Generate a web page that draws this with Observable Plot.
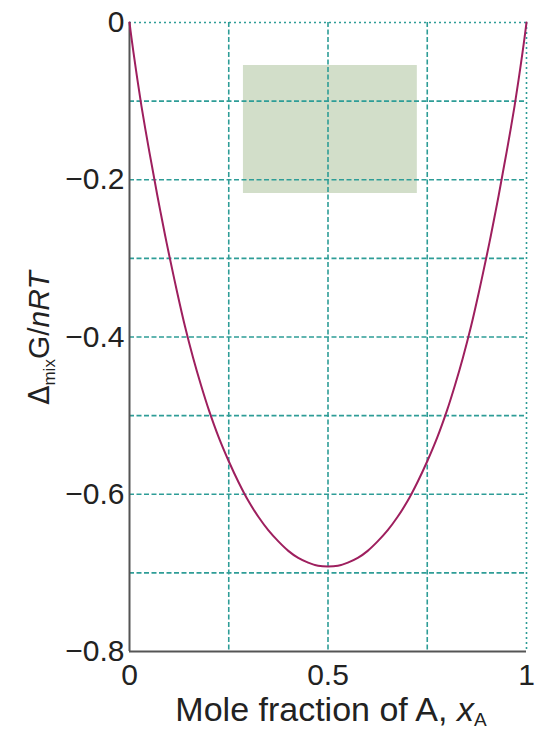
<!DOCTYPE html>
<html>
<head>
<meta charset="utf-8">
<script src="https://cdn.jsdelivr.net/npm/d3@7"></script>
<script src="https://cdn.jsdelivr.net/npm/@observablehq/plot@0.6"></script>
<style>
  html, body { margin: 0; padding: 0; background: #fff; }
  #chart { width: 548px; height: 733px; }
</style>
</head>
<body>
<div id="chart"></div>
<script>
// Curve values (mole fraction xA, ΔmixG/nRT)
const xA = [0, 0.005, 0.01, 0.02, 0.03, 0.04, 0.05, 0.06, 0.07, 0.08, 0.09, 0.1, 0.12, 0.14, 0.16, 0.18, 0.2,
            0.225, 0.25, 0.275, 0.3, 0.325, 0.35, 0.375, 0.4, 0.425, 0.45, 0.475, 0.5,
            0.525, 0.55, 0.575, 0.6, 0.625, 0.65, 0.675, 0.7, 0.725, 0.75, 0.775, 0.8,
            0.82, 0.84, 0.86, 0.88, 0.9, 0.91, 0.92, 0.93, 0.94, 0.95, 0.96, 0.97, 0.98, 0.99, 0.995, 1];
const gMix = [0, -0.0195, -0.038, -0.073, -0.106, -0.136, -0.1645, -0.192, -0.2197, -0.2458, -0.2715, -0.296, -0.343, -0.387, -0.426, -0.461, -0.493,
              -0.528, -0.558, -0.585, -0.609, -0.629, -0.646, -0.660, -0.672, -0.681, -0.687, -0.691, -0.692,
              -0.691, -0.687, -0.681, -0.672, -0.660, -0.646, -0.629, -0.609, -0.585, -0.558, -0.528, -0.493,
              -0.461, -0.426, -0.387, -0.343, -0.296, -0.2715, -0.2458, -0.2197, -0.192, -0.1645, -0.136, -0.106, -0.073, -0.038, -0.0195, 0];

const xTicks = [0, 0.5, 1];
const xTickLabels = ["0", "0.5", "1"];
const yTicks = [0, -0.2, -0.4, -0.6, -0.8];
const yTickLabels = ["0", "\u22120.2", "\u22120.4", "\u22120.6", "\u22120.8"];
const gridX = [0.25, 0.5, 0.75];
const gridY = [-0.1, -0.2, -0.3, -0.4, -0.5, -0.6, -0.7];
const edgeX = [1];
const edgeY = [0];
// shaded box (x1, x2, y1, y2)
const boxX = [0.287, 0.725];
const boxY = [-0.0547, -0.2175];

const curve = xA.map((x, i) => ({x, y: gMix[i]}));

const gridColor = "#2e9d97";
const font = "'Liberation Sans', Arial, Helvetica, sans-serif";

const plot = Plot.plot({
  width: 548,
  height: 733,
  marginLeft: 129,
  marginRight: 22,
  marginTop: 22,
  marginBottom: 82,
  style: {fontFamily: font, background: "#fff", overflow: "visible"},
  x: {domain: [0, 1]},
  y: {domain: [-0.8, 0]},
  marks: [
    Plot.rect([{x1: boxX[0], x2: boxX[1], y1: boxY[0], y2: boxY[1]}],
      {x1: "x1", x2: "x2", y1: "y1", y2: "y2", fill: "#d2dec9"}),
    Plot.ruleX(gridX, {stroke: gridColor, strokeWidth: 1.6, strokeDasharray: "5,2.5"}),
    Plot.ruleY(gridY, {stroke: gridColor, strokeWidth: 1.6, strokeDasharray: "5,2.5"}),
    Plot.ruleX(edgeX, {stroke: gridColor, strokeWidth: 1.6, strokeDasharray: "2,3"}),
    Plot.ruleY(edgeY, {stroke: gridColor, strokeWidth: 1.6, strokeDasharray: "2,3"}),
    Plot.ruleX([0], {stroke: "#555", strokeWidth: 2}),
    Plot.ruleY([-0.8], {stroke: "#555", strokeWidth: 2}),
    Plot.line(curve, {x: "x", y: "y", stroke: "#9e1f5e", strokeWidth: 2, curve: "catmull-rom"}),
    Plot.axisY({ticks: yTicks, tickFormat: (d) => yTickLabels[yTicks.indexOf(d)], tickSize: 0, tickPadding: 5,
      fontSize: 30, fill: "#222", label: null}),
    Plot.axisX({ticks: xTicks, tickFormat: (d) => xTickLabels[xTicks.indexOf(d)], tickSize: 0, tickPadding: 12,
      fontSize: 30, fill: "#222", label: null})
  ]
});

document.getElementById("chart").appendChild(plot);

// Axis titles with sub-scripts
const svg = d3.select(plot);
const xl = svg.append("text")
  .attr("x", 331).attr("y", 721)
  .attr("text-anchor", "middle")
  .attr("font-family", font).attr("font-size", 34).attr("fill", "#222");
xl.append("tspan").text("Mole fraction of A, ");
xl.append("tspan").attr("font-style", "italic").text("x");
xl.append("tspan").attr("font-size", 19).attr("dy", 5).text("A");

const yl = svg.append("text")
  .attr("transform", "translate(49,338) rotate(-90)")
  .attr("text-anchor", "middle")
  .attr("font-family", font).attr("font-size", 30).attr("fill", "#222");
yl.append("tspan").attr("font-family", "'DejaVu Sans', sans-serif").attr("font-size", 28).text("\u0394");
yl.append("tspan").attr("font-size", 17).attr("dy", 6).text("mix");
yl.append("tspan").attr("dy", -6).text("G");
yl.append("tspan").text("/");
yl.append("tspan").attr("font-style", "italic").text("nRT");
</script>
</body>
</html>
